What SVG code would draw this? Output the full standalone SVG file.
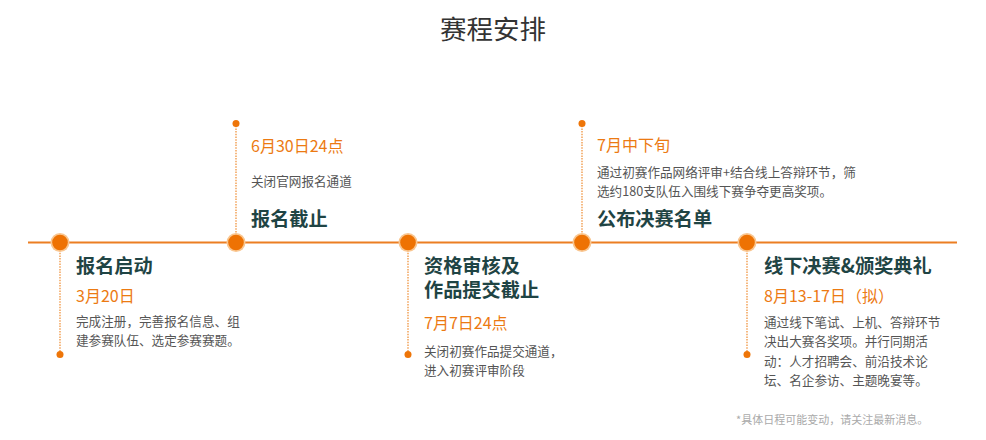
<svg xmlns="http://www.w3.org/2000/svg" width="986" height="440" viewBox="0 0 986 440">
<style>
text{font-family:"Noto Sans CJK SC","Noto Sans",sans-serif}
.h{font-size:26.5px;fill:#333;text-anchor:middle}
.t{font-size:19.2px;font-weight:700;fill:#1f4444}
.d{font-size:16px;fill:#ec7a12}
.p{font-size:12.6px;fill:#555}
.f{font-size:11px;fill:#aaa}
.stem{stroke:#ef8a2e;stroke-width:1.2;stroke-dasharray:1.5 1.2;fill:none}
.end{fill:#ee7508}
.halo{fill:#f9c690}
.core{fill:#ee7203}
.main{stroke:#ec7e22;stroke-width:2}
</style>
<rect width="986" height="440" fill="#fff"/>
<text class="h" x="493" y="39">赛程安排</text>
<g id="connectors">
<line class="main" x1="28" y1="242.5" x2="957" y2="242.5"/>
</g>
<g id="node1">
<line class="stem" x1="60" y1="250" x2="60" y2="354"/>
<circle class="end" cx="60" cy="354.5" r="3.5"/>
<circle class="halo" cx="60" cy="242.5" r="9.5"/>
<circle class="core" cx="60" cy="242.5" r="7.8"/>
<text class="t" x="76" y="273">报名启动</text>
<text class="d" x="76" y="302">3月20日</text>
<text class="p" x="76" y="326">完成注册，完善报名信息、组</text>
<text class="p" x="76" y="345">建参赛队伍、选定参赛赛题。</text>
</g>
<g id="node2">
<line class="stem" x1="236" y1="123" x2="236" y2="235"/>
<circle class="end" cx="236" cy="123.5" r="3.5"/>
<circle class="halo" cx="236" cy="242.5" r="9.5"/>
<circle class="core" cx="236" cy="242.5" r="7.8"/>
<text class="d" x="251" y="151.5">6月30日24点</text>
<text class="p" x="251" y="186">关闭官网报名通道</text>
<text class="t" x="251" y="226">报名截止</text>
</g>
<g id="node3">
<line class="stem" x1="408" y1="250" x2="408" y2="354"/>
<circle class="end" cx="408" cy="354.5" r="3.5"/>
<circle class="halo" cx="408" cy="242.5" r="9.5"/>
<circle class="core" cx="408" cy="242.5" r="7.8"/>
<text class="t" x="424" y="273">资格审核及</text>
<text class="t" x="424" y="297">作品提交截止</text>
<text class="d" x="424" y="329">7月7日24点</text>
<text class="p" x="424" y="356">关闭初赛作品提交通道，</text>
<text class="p" x="424" y="375">进入初赛评审阶段</text>
</g>
<g id="node4">
<line class="stem" x1="582" y1="123" x2="582" y2="235"/>
<circle class="end" cx="582" cy="123.5" r="3.5"/>
<circle class="halo" cx="582" cy="242.5" r="9.5"/>
<circle class="core" cx="582" cy="242.5" r="7.8"/>
<text class="d" x="597" y="150.5">7月中下旬</text>
<text class="p" x="597" y="176.5">通过初赛作品网络评审+结合线上答辩环节，筛</text>
<text class="p" x="597" y="195.5">选约180支队伍入围线下赛争夺更高奖项。</text>
<text class="t" x="597" y="226">公布决赛名单</text>
</g>
<g id="node5">
<line class="stem" x1="747" y1="250" x2="747" y2="354"/>
<circle class="end" cx="747" cy="354.5" r="3.5"/>
<circle class="halo" cx="747" cy="242.5" r="9.5"/>
<circle class="core" cx="747" cy="242.5" r="7.8"/>
<text class="t" x="764" y="273">线下决赛&amp;颁奖典礼</text>
<text class="d" x="764" y="302">8月13-17日（拟）</text>
<text class="p" x="764" y="326.5">通过线下笔试、上机、答辩环节</text>
<text class="p" x="764" y="346">决出大赛各奖项。并行同期活</text>
<text class="p" x="764" y="365.5">动：人才招聘会、前沿技术论</text>
<text class="p" x="764" y="385">坛、名企参访、主题晚宴等。</text>
</g>
<text class="f" x="736" y="424">*具体日程可能变动，请关注最新消息。</text>
</svg>
